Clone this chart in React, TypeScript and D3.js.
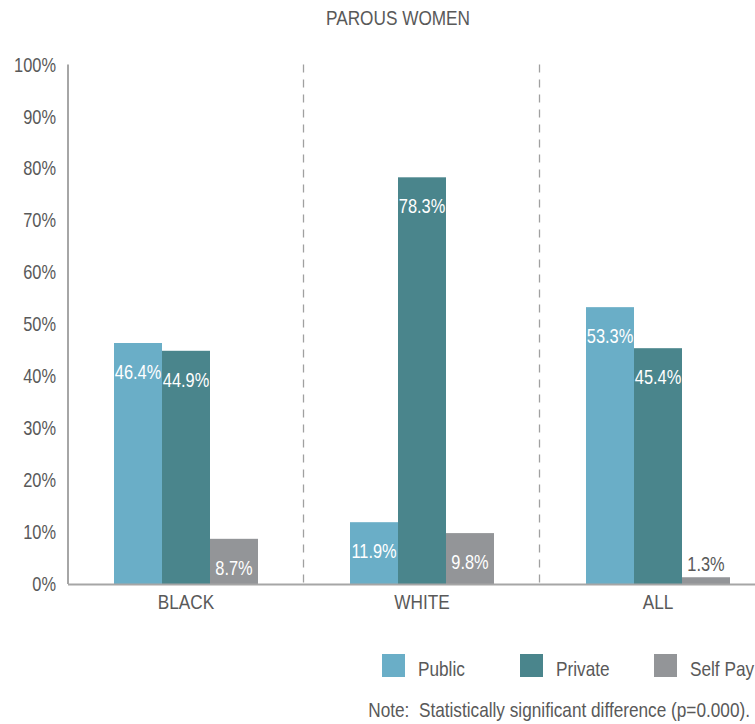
import React from "react";
import * as d3 from "d3";

const categories = ["BLACK", "WHITE", "ALL"];
const seriesNames = ["Public", "Private", "Self Pay"];
const publicValues = [46.4, 11.9, 53.3];
const privateValues = [44.9, 78.3, 45.4];
const selfPayValues = [8.7, 9.8, 1.3];
const seriesColors = ["#6aaec7", "#4a858c", "#939598"];
const yTickValues = [0, 10, 20, 30, 40, 50, 60, 70, 80, 90, 100];
const title = "PAROUS WOMEN";
const note = "Note:  Statistically significant difference (p=0.000).";

const W = 755;
const H = 724;
const FONT = "'Liberation Sans', Arial, sans-serif";
const TEXT = "#595959";
const AXIS = "#a6a6a6";
const NARROW = 0.82;

type LabelProps = {
  x: number;
  y: number;
  size: number;
  anchor?: "start" | "middle" | "end";
  fill?: string;
  children: React.ReactNode;
};

function Label({ x, y, size, anchor = "start", fill = TEXT, children }: LabelProps) {
  return (
    <text
      transform={`translate(${x},${y}) scale(${NARROW},1)`}
      textAnchor={anchor}
      fontSize={size}
      fill={fill}
      style={{ whiteSpace: "pre" }}
    >
      {children}
    </text>
  );
}

export default function App() {
  const left = 68;
  const step = 236;
  const x = d3.scaleBand<string>().domain(categories).range([left, left + step * categories.length]).padding(0);
  const inner = d3.scaleBand<string>().domain(seriesNames).range([46, 190]).padding(0);
  const y = d3.scaleLinear().domain([0, 100]).range([584, 64.6]);
  const seriesValues = [publicValues, privateValues, selfPayValues];

  const legendX = [382, 520, 654];

  return (
    <svg
      width={W}
      height={H}
      style={{ position: "absolute", left: 0, top: 0, background: "#fff" }}
      fontFamily={FONT}
    >
      <rect x={0} y={0} width={W} height={H} fill="#fff" />
      <Label x={398} y={25} size={21} anchor="middle">
        {title}
      </Label>

      {yTickValues.map((t) => (
        <Label key={t} x={56} y={y(t) + 7} size={20} anchor="end">
          {d3.format("d")(t)}%
        </Label>
      ))}

      {categories.slice(1).map((c) => (
        <line
          key={c}
          x1={x(c)! - 0.5}
          x2={x(c)! - 0.5}
          y1={y(100)}
          y2={y(0)}
          stroke="#a0a0a0"
          strokeWidth={1.3}
          strokeDasharray="8,7"
        />
      ))}

      {categories.map((c, ci) =>
        seriesNames.map((s, si) => {
          const v = seriesValues[si][ci];
          const bx = x(c)! + inner(s)!;
          const bw = inner.bandwidth();
          const top = y(v);
          const inside = v >= 5;
          return (
            <g key={c + s}>
              <rect x={bx} y={top} width={bw} height={y(0) - top} fill={seriesColors[si]} />
              <Label
                x={bx + bw / 2}
                y={inside ? top + 36 : top - 6}
                size={20}
                anchor="middle"
                fill={inside ? "#ffffff" : TEXT}
              >
                {v.toFixed(1)}%
              </Label>
            </g>
          );
        })
      )}

      <line x1={left} x2={left} y1={y(100)} y2={y(0)} stroke={AXIS} strokeWidth={2} />
      <line x1={left} x2={W} y1={y(0) + 0.5} y2={y(0) + 0.5} stroke={AXIS} strokeWidth={2} />

      {categories.map((c) => (
        <Label key={c} x={x(c)! + step / 2} y={609} size={21} anchor="middle">
          {c}
        </Label>
      ))}

      {seriesNames.map((s, i) => (
        <g key={s}>
          <rect x={legendX[i]} y={654} width={23} height={23} fill={seriesColors[i]} />
          <Label x={legendX[i] + 36} y={676} size={21}>
            {s}
          </Label>
        </g>
      ))}

      <Label x={750} y={717} size={21} anchor="end">
        {note}
      </Label>
    </svg>
  );
}
